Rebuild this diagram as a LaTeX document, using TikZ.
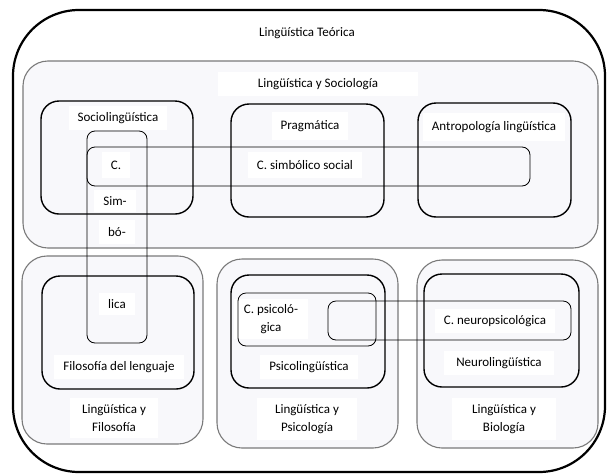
\documentclass[tikz,border=0pt]{standalone}
\usepackage{fontspec}
\setmainfont{Carlito}
\usetikzlibrary{fit}
\definecolor{panelgray}{HTML}{7A7A7A}
\definecolor{panelfill}{HTML}{F8F8FB}
\begin{document}
\begin{tikzpicture}[x=1pt,y=-1pt,
  frame/.style={draw=black, line width=2.2pt, rounded corners=66pt, inner sep=0pt},
  panel/.style={draw=panelgray, fill=panelfill, line width=1.1pt, rounded corners=25pt, inner sep=0pt},
  field/.style={draw=black, line width=1.4pt, rounded corners=18pt, inner sep=0pt},
  concept/.style={draw=black, line width=0.8pt, rounded corners=8pt, inner sep=0pt},
  lab/.style={fill=white, font=\fontsize{13}{18}\selectfont, align=center, inner xsep=9pt, inner ysep=6pt},
]
\useasboundingbox (0,0) rectangle (607,474);
% outer frame
\node[frame, fit={(13,10) (605,472)}] (outer) {};
% grey panels
\node[panel, fit={(23,61) (598,248)}] (psoc) {};
\node[panel, fit={(22,256) (203,444)}] (pfil) {};
\node[panel, fit={(217,259) (398,448)}] (ppsi) {};
\node[panel, fit={(417,260) (598,448)}] (pbio) {};
% fields
\node[field, fit={(41,101) (193,214)}] (socio) {};
\node[field, fit={(231,104) (384,217)}] (prag) {};
\node[field, fit={(418,103) (571,217)}] (antro) {};
\node[field, fit={(42,276) (194,389)}] (filo) {};
\node[field, fit={(231,275) (385,388)}] (psico) {};
\node[field, fit={(424,274) (579,387)}] (neuro) {};
% labels
\node[font=\fontsize{13}{18}\selectfont] (tteo) at (307,33) {Lingüística Teórica};
\node[lab, inner xsep=40pt] (tsoc) at (318,84) {Lingüística y Sociología};
\node[lab] (tsocio) at (118,118) {Sociolingüística};
\node[lab, inner ysep=8pt] (tprag) at (310,126) {Pragmática};
\node[lab, inner ysep=8pt] (tantro) at (494,127) {Antropología lingüística};
\node[lab, inner ysep=8pt] (tsimb) at (305,165) {C. simbólico social};
\node[lab, inner ysep=9pt] (tc) at (116,165) {C.};
\node[lab] (tsim) at (115,201) {Sim-};
\node[lab, inner ysep=7pt] (tbo) at (117,232) {bó-};
\node[lab] (tlica) at (117,304) {lica};
\node[lab] (tfilo) at (119,367) {Filosofía del lenguaje};
\node[lab, inner xsep=12pt] (tpfil) at (114,418) {Lingüística y\\Filosofía};
\node[lab, inner xsep=10pt, inner ysep=5pt] (tcpsi) at (271,319) {C. psicoló-\\gica};
\node[lab] (tpsico) at (309,367) {Psicolingüística};
\node[lab, inner xsep=18pt] (tppsi) at (307,419) {Lingüística y\\Psicología};
\node[lab] (tcneu) at (495,321) {C. neuropsicológica};
\node[lab, inner xsep=12pt] (tneuro) at (499,363) {Neurolingüística};
\node[lab, inner xsep=20pt] (tpbio) at (504,419) {Lingüística y\\Biología};
% concept boxes
\node[concept, fit={(87,147) (530,186)}] (csoc) {};
\node[concept, fit={(87,131) (147,343)}] (csim) {};
\node[concept, fit={(238,293) (376,346)}] (cpsi) {};
\node[concept, fit={(328,301) (571,340)}] (cneu) {};
\end{tikzpicture}
\end{document}
